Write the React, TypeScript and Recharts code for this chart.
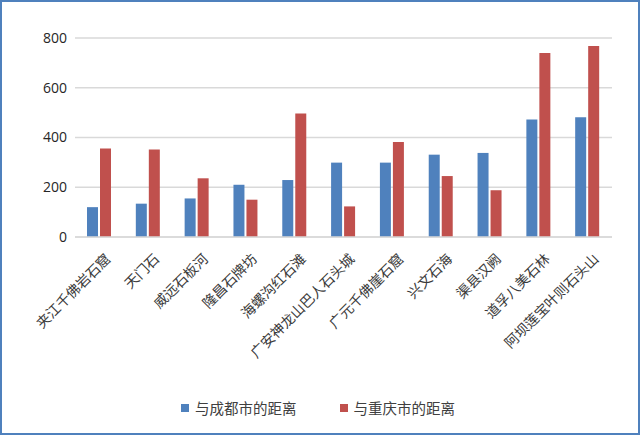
import React from "react";
import { Bar, BarChart, CartesianGrid, Legend, XAxis, YAxis } from "recharts";

const sites = [
  "夹江千佛岩石窟",
  "天门石",
  "威远石板河",
  "隆昌石牌坊",
  "海螺沟红石滩",
  "广安神龙山巴人石头城",
  "广元千佛崖石窟",
  "兴文石海",
  "渠县汉阙",
  "道孚八美石林",
  "阿坝莲宝叶则石头山",
];
const chengdu = [120, 134, 155, 210, 229, 299, 299, 331, 338, 472, 481];
const chongqing = [356, 352, 236, 150, 496, 123, 382, 245, 188, 740, 768];
const yTicks = [0, 200, 400, 600, 800];

const data = sites.map((name, i) => ({ name, cd: chengdu[i], cq: chongqing[i] }));

const cjk = '"Noto Sans CJK SC", sans-serif';

function SiteTick(props: any) {
  const { x, y, payload } = props;
  return (
    <text
      x={x}
      y={y}
      dx={-2}
      dy={19}
      transform={`rotate(-45, ${x}, ${y})`}
      textAnchor="end"
      fontSize={14}
      fontFamily={cjk}
      fill="#3a3a3a"
    >
      {payload.value}
    </text>
  );
}

function LegendBox(props: any) {
  const items = props.payload || [];
  return (
    <div style={{ display: "flex", justifyContent: "center", paddingLeft: 22 }}>
      {items.map((it: any, i: number) => (
        <div
          key={it.value}
          style={{ display: "flex", alignItems: "center", marginLeft: i === 0 ? 0 : 43 }}
        >
          <span style={{ width: 8, height: 8, background: it.color, display: "inline-block", marginRight: 6 }} />
          <span style={{ color: "#404040", fontSize: 14.5, fontFamily: cjk }}>{it.value}</span>
        </div>
      ))}
    </div>
  );
}

export default function App() {
  return (
    <div
      style={{
        position: "absolute",
        left: 0,
        top: 0,
        width: 640,
        height: 435,
        border: "2px solid #4F81BD",
        boxSizing: "border-box",
        background: "#fff",
      }}
    >
      <BarChart
        width={636}
        height={431}
        data={data}
        margin={{ top: 36, right: 26, left: 0, bottom: 0 }}
        barSize={11}
        barGap={2}
      >
        <CartesianGrid vertical={false} stroke="#D9D9D9" strokeWidth={1.5} />
        <XAxis
          dataKey="name"
          interval={0}
          height={160}
          tickLine={false}
          axisLine={{ stroke: "#D9D9D9", strokeWidth: 1.5 }}
          tick={<SiteTick />}
        />
        <YAxis
          width={73}
          domain={[0, 800]}
          ticks={yTicks}
          tickLine={false}
          axisLine={false}
          tick={{ fontSize: 14, fill: "#262626", fontFamily: "Open Sans, sans-serif" }}
        />
        <Legend verticalAlign="bottom" height={36} content={<LegendBox />} />
        <Bar dataKey="cd" name="与成都市的距离" fill="#4F81BD" isAnimationActive={false} />
        <Bar dataKey="cq" name="与重庆市的距离" fill="#C0504D" isAnimationActive={false} />
      </BarChart>
    </div>
  );
}
